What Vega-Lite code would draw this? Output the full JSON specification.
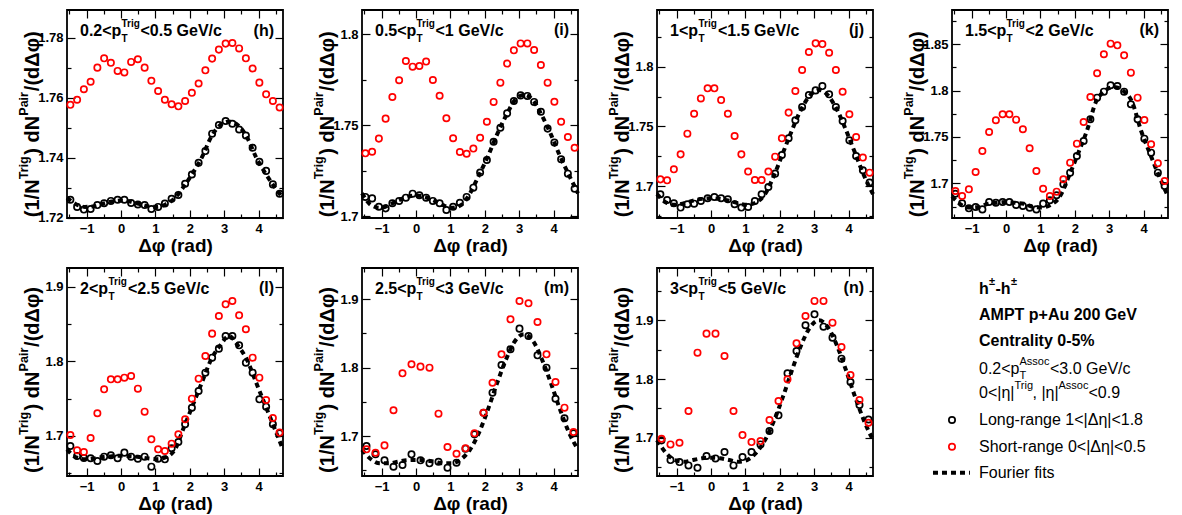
{
  "$schema": "https://vega.github.io/schema/vega-lite/v6.json",
  "background": "white",
  "padding": {"left": 17, "top": 8, "right": 0, "bottom": 0},
  "columns": 4,
  "spacing": {"row": 50, "column": 79},
  "bounds": "flush",
  "datasets": {
    "pts": [
      {"p":"h","x":-1.4726,"L":1.7260,"S":1.7576},{"p":"h","x":-1.2763,"L":1.7236,"S":1.7593},{"p":"h","x":-1.0799,"L":1.7227,"S":1.7628},{"p":"h","x":-0.8836,"L":1.7229,"S":1.7653},
      {"p":"h","x":-0.6872,"L":1.7242,"S":1.7700},{"p":"h","x":-0.4909,"L":1.7248,"S":1.7731},{"p":"h","x":-0.2945,"L":1.7256,"S":1.7716},{"p":"h","x":-0.0982,"L":1.7260,"S":1.7689},
      {"p":"h","x":0.0982,"L":1.7260,"S":1.7684},{"p":"h","x":0.2945,"L":1.7249,"S":1.7719},{"p":"h","x":0.4909,"L":1.7244,"S":1.7728},{"p":"h","x":0.6872,"L":1.7242,"S":1.7700},
      {"p":"h","x":0.8836,"L":1.7229,"S":1.7656},{"p":"h","x":1.0799,"L":1.7236,"S":1.7622},{"p":"h","x":1.2763,"L":1.7247,"S":1.7593},{"p":"h","x":1.4726,"L":1.7263,"S":1.7578},
      {"p":"h","x":1.669,"L":1.7276,"S":1.7571},{"p":"h","x":1.8653,"L":1.7313,"S":1.7589},{"p":"h","x":2.0617,"L":1.7344,"S":1.7616},{"p":"h","x":2.258,"L":1.7383,"S":1.7647},
      {"p":"h","x":2.4544,"L":1.7422,"S":1.7691},{"p":"h","x":2.6507,"L":1.7480,"S":1.7730},{"p":"h","x":2.8471,"L":1.7509,"S":1.7760},{"p":"h","x":3.0434,"L":1.7522,"S":1.7780},
      {"p":"h","x":3.2398,"L":1.7513,"S":1.7782},{"p":"h","x":3.4361,"L":1.7494,"S":1.7764},{"p":"h","x":3.6325,"L":1.7474,"S":1.7731},{"p":"h","x":3.8288,"L":1.7433,"S":1.7697},
      {"p":"h","x":4.0252,"L":1.7386,"S":1.7650},{"p":"h","x":4.2215,"L":1.7356,"S":1.7611},{"p":"h","x":4.4179,"L":1.7311,"S":1.7589},{"p":"h","x":4.6142,"L":1.7280,"S":1.7567},

      {"p":"i","x":-1.4726,"L":1.7105,"S":1.7345},{"p":"i","x":-1.2763,"L":1.7097,"S":1.7354},{"p":"i","x":-1.0799,"L":1.7051,"S":1.7426},{"p":"i","x":-0.8836,"L":1.7042,"S":1.7536},
      {"p":"i","x":-0.6872,"L":1.7070,"S":1.7655},{"p":"i","x":-0.4909,"L":1.7083,"S":1.7747},{"p":"i","x":-0.2945,"L":1.7101,"S":1.7853},{"p":"i","x":-0.0982,"L":1.7123,"S":1.7822},
      {"p":"i","x":0.0982,"L":1.7114,"S":1.7826},{"p":"i","x":0.2945,"L":1.7101,"S":1.7850},{"p":"i","x":0.4909,"L":1.7083,"S":1.7749},{"p":"i","x":0.6872,"L":1.7070,"S":1.7662},
      {"p":"i","x":0.8836,"L":1.7033,"S":1.7538},{"p":"i","x":1.0799,"L":1.7051,"S":1.7428},{"p":"i","x":1.2763,"L":1.7073,"S":1.7352},{"p":"i","x":1.4726,"L":1.7105,"S":1.7343},
      {"p":"i","x":1.669,"L":1.7156,"S":1.7371},{"p":"i","x":1.8653,"L":1.7239,"S":1.7431},{"p":"i","x":2.0617,"L":1.7308,"S":1.7519},{"p":"i","x":2.258,"L":1.7409,"S":1.7628},
      {"p":"i","x":2.4544,"L":1.7486,"S":1.7734},{"p":"i","x":2.6507,"L":1.7565,"S":1.7839},{"p":"i","x":2.8471,"L":1.7633,"S":1.7912},{"p":"i","x":3.0434,"L":1.7664,"S":1.7950},
      {"p":"i","x":3.2398,"L":1.7661,"S":1.7950},{"p":"i","x":3.4361,"L":1.7628,"S":1.7914},{"p":"i","x":3.6325,"L":1.7574,"S":1.7831},{"p":"i","x":3.8288,"L":1.7481,"S":1.7734},
      {"p":"i","x":4.0252,"L":1.7404,"S":1.7629},{"p":"i","x":4.2215,"L":1.7312,"S":1.7519},{"p":"i","x":4.4179,"L":1.7233,"S":1.7435},{"p":"i","x":4.6142,"L":1.7150,"S":1.7376},

      {"p":"j","x":-1.4726,"L":1.6933,"S":1.7058},{"p":"j","x":-1.2763,"L":1.6886,"S":1.7050},{"p":"j","x":-1.0799,"L":1.6858,"S":1.7142},{"p":"j","x":-0.8836,"L":1.6822,"S":1.7267},
      {"p":"j","x":-0.6872,"L":1.6850,"S":1.7440},{"p":"j","x":-0.4909,"L":1.6855,"S":1.7607},{"p":"j","x":-0.2945,"L":1.6877,"S":1.7735},{"p":"j","x":-0.0982,"L":1.6900,"S":1.7819},
      {"p":"j","x":0.0982,"L":1.6911,"S":1.7819},{"p":"j","x":0.2945,"L":1.6900,"S":1.7721},{"p":"j","x":0.4909,"L":1.6891,"S":1.7607},{"p":"j","x":0.6872,"L":1.6850,"S":1.7421},
      {"p":"j","x":0.8836,"L":1.6822,"S":1.7267},{"p":"j","x":1.0799,"L":1.6827,"S":1.7123},{"p":"j","x":1.2763,"L":1.6877,"S":1.7053},{"p":"j","x":1.4726,"L":1.6933,"S":1.7053},
      {"p":"j","x":1.669,"L":1.6994,"S":1.7123},{"p":"j","x":1.8653,"L":1.7106,"S":1.7248},{"p":"j","x":2.0617,"L":1.7262,"S":1.7401},{"p":"j","x":2.258,"L":1.7401,"S":1.7616},
      {"p":"j","x":2.4544,"L":1.7552,"S":1.7797},{"p":"j","x":2.6507,"L":1.7663,"S":1.7972},{"p":"j","x":2.8471,"L":1.7763,"S":1.8123},{"p":"j","x":3.0434,"L":1.7802,"S":1.8195},
      {"p":"j","x":3.2398,"L":1.7838,"S":1.8189},{"p":"j","x":3.4361,"L":1.7769,"S":1.8117},{"p":"j","x":3.6325,"L":1.7663,"S":1.7972},{"p":"j","x":3.8288,"L":1.7546,"S":1.7791},
      {"p":"j","x":4.0252,"L":1.7384,"S":1.7602},{"p":"j","x":4.2215,"L":1.7253,"S":1.7412},{"p":"j","x":4.4179,"L":1.7134,"S":1.7240},{"p":"j","x":4.6142,"L":1.7031,"S":1.7114},

      {"p":"k","x":-1.4726,"L":1.6888,"S":1.6917},{"p":"k","x":-1.2763,"L":1.6784,"S":1.6863},{"p":"k","x":-1.0799,"L":1.6730,"S":1.6935},{"p":"k","x":-0.8836,"L":1.6745,"S":1.7122},
      {"p":"k","x":-0.6872,"L":1.6719,"S":1.7349},{"p":"k","x":-0.4909,"L":1.6799,"S":1.7554},{"p":"k","x":-0.2945,"L":1.6791,"S":1.7680},{"p":"k","x":-0.0982,"L":1.6799,"S":1.7745},
      {"p":"k","x":0.0982,"L":1.6799,"S":1.7745},{"p":"k","x":0.2945,"L":1.6766,"S":1.7687},{"p":"k","x":0.4909,"L":1.6755,"S":1.7583},{"p":"k","x":0.6872,"L":1.6737,"S":1.7378},
      {"p":"k","x":0.8836,"L":1.6719,"S":1.7133},{"p":"k","x":1.0799,"L":1.6781,"S":1.6942},{"p":"k","x":1.2763,"L":1.6817,"S":1.6863},{"p":"k","x":1.4726,"L":1.6871,"S":1.6910},
      {"p":"k","x":1.669,"L":1.6989,"S":1.7043},{"p":"k","x":1.8653,"L":1.7115,"S":1.7223},{"p":"k","x":2.0617,"L":1.7295,"S":1.7428},{"p":"k","x":2.258,"L":1.7457,"S":1.7662},
      {"p":"k","x":2.4544,"L":1.7691,"S":1.7932},{"p":"k","x":2.6507,"L":1.7924,"S":1.8187},{"p":"k","x":2.8471,"L":1.7989,"S":1.8392},{"p":"k","x":3.0434,"L":1.8058,"S":1.8507},
      {"p":"k","x":3.2398,"L":1.8050,"S":1.8489},{"p":"k","x":3.4361,"L":1.7989,"S":1.8381},{"p":"k","x":3.6325,"L":1.7853,"S":1.8194},{"p":"k","x":3.8288,"L":1.7691,"S":1.7924},
      {"p":"k","x":4.0252,"L":1.7482,"S":1.7683},{"p":"k","x":4.2215,"L":1.7331,"S":1.7421},{"p":"k","x":4.4179,"L":1.7115,"S":1.7216},{"p":"k","x":4.6142,"L":1.6971,"S":1.7025},

      {"p":"l","x":-1.4726,"L":1.6866,"S":1.7013},{"p":"l","x":-1.2763,"L":1.6732,"S":1.6808},{"p":"l","x":-1.0799,"L":1.6705,"S":1.6786},{"p":"l","x":-0.8836,"L":1.6701,"S":1.6973},
      {"p":"l","x":-0.6872,"L":1.6665,"S":1.7304},{"p":"l","x":-0.4909,"L":1.6723,"S":1.7625},{"p":"l","x":-0.2945,"L":1.6741,"S":1.7759},{"p":"l","x":-0.0982,"L":1.6701,"S":1.7759},
      {"p":"l","x":0.0982,"L":1.6777,"S":1.7781},{"p":"l","x":0.2945,"L":1.6723,"S":1.7804},{"p":"l","x":0.4909,"L":1.6696,"S":1.7634},{"p":"l","x":0.6872,"L":1.6723,"S":1.7326},
      {"p":"l","x":0.8836,"L":1.6589,"S":1.6955},{"p":"l","x":1.0799,"L":1.6696,"S":1.6821},{"p":"l","x":1.2763,"L":1.6687,"S":1.6799},{"p":"l","x":1.4726,"L":1.6835,"S":1.6897},
      {"p":"l","x":1.669,"L":1.6920,"S":1.7022},{"p":"l","x":1.8653,"L":1.7156,"S":1.7223},{"p":"l","x":2.0617,"L":1.7379,"S":1.7500},{"p":"l","x":2.258,"L":1.7603,"S":1.7768},
      {"p":"l","x":2.4544,"L":1.7848,"S":1.8071},{"p":"l","x":2.6507,"L":1.8049,"S":1.8371},{"p":"l","x":2.8471,"L":1.8170,"S":1.8607},{"p":"l","x":3.0434,"L":1.8339,"S":1.8763},
      {"p":"l","x":3.2398,"L":1.8339,"S":1.8808},{"p":"l","x":3.4361,"L":1.8214,"S":1.8616},{"p":"l","x":3.6325,"L":1.7982,"S":1.8429},{"p":"l","x":3.8288,"L":1.7848,"S":1.8049},
      {"p":"l","x":4.0252,"L":1.7491,"S":1.7781},{"p":"l","x":4.2215,"L":1.7393,"S":1.7482},{"p":"l","x":4.4179,"L":1.7156,"S":1.7241},{"p":"l","x":4.6142,"L":1.7036,"S":1.7045},

      {"p":"m","x":-1.4399,"L":1.6854,"S":1.6805},{"p":"m","x":-1.1781,"L":1.6732,"S":1.6756},{"p":"m","x":-0.9163,"L":1.6644,"S":1.6863},{"p":"m","x":-0.6545,"L":1.6551,"S":1.7376},
      {"p":"m","x":-0.3927,"L":1.6576,"S":1.7917},{"p":"m","x":-0.1309,"L":1.6732,"S":1.8049},{"p":"m","x":0.1309,"L":1.6644,"S":1.8015},{"p":"m","x":0.3927,"L":1.6600,"S":1.8000},
      {"p":"m","x":0.6545,"L":1.6624,"S":1.7327},{"p":"m","x":0.9163,"L":1.6537,"S":1.6839},{"p":"m","x":1.1781,"L":1.6610,"S":1.6741},{"p":"m","x":1.4399,"L":1.6815,"S":1.6820},
      {"p":"m","x":1.7017,"L":1.7024,"S":1.7039},{"p":"m","x":1.9635,"L":1.7341,"S":1.7341},{"p":"m","x":2.2253,"L":1.7634,"S":1.7780},{"p":"m","x":2.4871,"L":1.8039,"S":1.8195},
      {"p":"m","x":2.7489,"L":1.8268,"S":1.8707},{"p":"m","x":3.0107,"L":1.8571,"S":1.8976},{"p":"m","x":3.2725,"L":1.8463,"S":1.8941},{"p":"m","x":3.5343,"L":1.8180,"S":1.8668},
      {"p":"m","x":3.7961,"L":1.8000,"S":1.8195},{"p":"m","x":4.0579,"L":1.7546,"S":1.7790},{"p":"m","x":4.3197,"L":1.7259,"S":1.7415},{"p":"m","x":4.5815,"L":1.7039,"S":1.7059},

      {"p":"n","x":-1.4399,"L":1.6955,"S":1.6983},{"p":"n","x":-1.1781,"L":1.6619,"S":1.6886},{"p":"n","x":-0.9163,"L":1.6585,"S":1.6915},{"p":"n","x":-0.6545,"L":1.6528,"S":1.7455},
      {"p":"n","x":-0.3927,"L":1.6489,"S":1.8449},{"p":"n","x":-0.1309,"L":1.6688,"S":1.8773},{"p":"n","x":0.1309,"L":1.6648,"S":1.8773},{"p":"n","x":0.3927,"L":1.6756,"S":1.8392},
      {"p":"n","x":0.6545,"L":1.6528,"S":1.7455},{"p":"n","x":0.9163,"L":1.6670,"S":1.7045},{"p":"n","x":1.1781,"L":1.6756,"S":1.6926},{"p":"n","x":1.4399,"L":1.6886,"S":1.6943},
      {"p":"n","x":1.7017,"L":1.7114,"S":1.7301},{"p":"n","x":1.9635,"L":1.7381,"S":1.7625},{"p":"n","x":2.2253,"L":1.8097,"S":1.7994},{"p":"n","x":2.4871,"L":1.8477,"S":1.8608},
      {"p":"n","x":2.7489,"L":1.8915,"S":1.9074},{"p":"n","x":3.0107,"L":1.9102,"S":1.9330},{"p":"n","x":3.2725,"L":1.8892,"S":1.9330},{"p":"n","x":3.5343,"L":1.8705,"S":1.8960},
      {"p":"n","x":3.7961,"L":1.8347,"S":1.8545},{"p":"n","x":4.0579,"L":1.7949,"S":1.8068},{"p":"n","x":4.3197,"L":1.7557,"S":1.7642},{"p":"n","x":4.5815,"L":1.7310,"S":1.7256}
    ],
    "fit": [
      {"p":"h","x":-1.5708,"F":1.7266},{"p":"h","x":-1.309,"F":1.7245},{"p":"h","x":-1.0472,"F":1.7236},{"p":"h","x":-0.7854,"F":1.7238},{"p":"h","x":-0.5236,"F":1.7246},
      {"p":"h","x":-0.2618,"F":1.7254},{"p":"h","x":0,"F":1.7257},{"p":"h","x":0.2618,"F":1.7254},{"p":"h","x":0.5236,"F":1.7246},{"p":"h","x":0.7854,"F":1.7238},
      {"p":"h","x":1.0472,"F":1.7236},{"p":"h","x":1.309,"F":1.7245},{"p":"h","x":1.5708,"F":1.7266},{"p":"h","x":1.8326,"F":1.7305},{"p":"h","x":2.0944,"F":1.7350},
      {"p":"h","x":2.3562,"F":1.7402},{"p":"h","x":2.618,"F":1.7468},{"p":"h","x":2.8798,"F":1.7508},{"p":"h","x":3.1416,"F":1.7520},{"p":"h","x":3.4034,"F":1.7508},
      {"p":"h","x":3.6652,"F":1.7468},{"p":"h","x":3.927,"F":1.7402},{"p":"h","x":4.1888,"F":1.7350},{"p":"h","x":4.4506,"F":1.7305},{"p":"h","x":4.7124,"F":1.7266},

      {"p":"i","x":-1.5708,"F":1.7125},{"p":"i","x":-1.309,"F":1.7060},{"p":"i","x":-1.0472,"F":1.7045},{"p":"i","x":-0.7854,"F":1.7060},{"p":"i","x":-0.5236,"F":1.7085},
      {"p":"i","x":-0.2618,"F":1.7105},{"p":"i","x":0,"F":1.7113},{"p":"i","x":0.2618,"F":1.7105},{"p":"i","x":0.5236,"F":1.7085},{"p":"i","x":0.7854,"F":1.7060},
      {"p":"i","x":1.0472,"F":1.7045},{"p":"i","x":1.309,"F":1.7060},{"p":"i","x":1.5708,"F":1.7125},{"p":"i","x":1.8326,"F":1.7225},{"p":"i","x":2.0944,"F":1.7330},
      {"p":"i","x":2.3562,"F":1.7448},{"p":"i","x":2.618,"F":1.7552},{"p":"i","x":2.8798,"F":1.7638},{"p":"i","x":3.1416,"F":1.7667},{"p":"i","x":3.4034,"F":1.7638},
      {"p":"i","x":3.6652,"F":1.7552},{"p":"i","x":3.927,"F":1.7448},{"p":"i","x":4.1888,"F":1.7330},{"p":"i","x":4.4506,"F":1.7225},{"p":"i","x":4.7124,"F":1.7125},

      {"p":"j","x":-1.5708,"F":1.6935},{"p":"j","x":-1.309,"F":1.6865},{"p":"j","x":-1.0472,"F":1.6845},{"p":"j","x":-0.7854,"F":1.6858},{"p":"j","x":-0.5236,"F":1.6880},
      {"p":"j","x":-0.2618,"F":1.6895},{"p":"j","x":0,"F":1.6900},{"p":"j","x":0.2618,"F":1.6895},{"p":"j","x":0.5236,"F":1.6880},{"p":"j","x":0.7854,"F":1.6858},
      {"p":"j","x":1.0472,"F":1.6845},{"p":"j","x":1.309,"F":1.6865},{"p":"j","x":1.5708,"F":1.6935},{"p":"j","x":1.8326,"F":1.7090},{"p":"j","x":2.0944,"F":1.7280},
      {"p":"j","x":2.3562,"F":1.7470},{"p":"j","x":2.618,"F":1.7640},{"p":"j","x":2.8798,"F":1.7760},{"p":"j","x":3.1416,"F":1.7805},{"p":"j","x":3.4034,"F":1.7760},
      {"p":"j","x":3.6652,"F":1.7640},{"p":"j","x":3.927,"F":1.7470},{"p":"j","x":4.1888,"F":1.7280},{"p":"j","x":4.4506,"F":1.7090},{"p":"j","x":4.7124,"F":1.6935},

      {"p":"k","x":-1.5708,"F":1.6860},{"p":"k","x":-1.309,"F":1.6770},{"p":"k","x":-1.0472,"F":1.6740},{"p":"k","x":-0.7854,"F":1.6745},{"p":"k","x":-0.5236,"F":1.6780},
      {"p":"k","x":-0.2618,"F":1.6790},{"p":"k","x":0,"F":1.6798},{"p":"k","x":0.2618,"F":1.6790},{"p":"k","x":0.5236,"F":1.6780},{"p":"k","x":0.7854,"F":1.6745},
      {"p":"k","x":1.0472,"F":1.6740},{"p":"k","x":1.309,"F":1.6770},{"p":"k","x":1.5708,"F":1.6860},{"p":"k","x":1.8326,"F":1.7080},{"p":"k","x":2.0944,"F":1.7320},
      {"p":"k","x":2.3562,"F":1.7570},{"p":"k","x":2.618,"F":1.7880},{"p":"k","x":2.8798,"F":1.8000},{"p":"k","x":3.1416,"F":1.8040},{"p":"k","x":3.4034,"F":1.8000},
      {"p":"k","x":3.6652,"F":1.7880},{"p":"k","x":3.927,"F":1.7570},{"p":"k","x":4.1888,"F":1.7320},{"p":"k","x":4.4506,"F":1.7080},{"p":"k","x":4.7124,"F":1.6860},

      {"p":"l","x":-1.5708,"F":1.6820},{"p":"l","x":-1.309,"F":1.6715},{"p":"l","x":-1.0472,"F":1.6690},{"p":"l","x":-0.7854,"F":1.6700},{"p":"l","x":-0.5236,"F":1.6718},
      {"p":"l","x":-0.2618,"F":1.6730},{"p":"l","x":0,"F":1.6735},{"p":"l","x":0.2618,"F":1.6730},{"p":"l","x":0.5236,"F":1.6718},{"p":"l","x":0.7854,"F":1.6700},
      {"p":"l","x":1.0472,"F":1.6690},{"p":"l","x":1.309,"F":1.6715},{"p":"l","x":1.5708,"F":1.6820},{"p":"l","x":1.8326,"F":1.7120},{"p":"l","x":2.0944,"F":1.7420},
      {"p":"l","x":2.3562,"F":1.7720},{"p":"l","x":2.618,"F":1.8020},{"p":"l","x":2.8798,"F":1.8210},{"p":"l","x":3.1416,"F":1.8340},{"p":"l","x":3.4034,"F":1.8210},
      {"p":"l","x":3.6652,"F":1.8020},{"p":"l","x":3.927,"F":1.7720},{"p":"l","x":4.1888,"F":1.7420},{"p":"l","x":4.4506,"F":1.7120},{"p":"l","x":4.7124,"F":1.6820},

      {"p":"m","x":-1.5708,"F":1.6800},{"p":"m","x":-1.309,"F":1.6660},{"p":"m","x":-1.0472,"F":1.6600},{"p":"m","x":-0.7854,"F":1.6600},{"p":"m","x":-0.5236,"F":1.6625},
      {"p":"m","x":-0.2618,"F":1.6645},{"p":"m","x":0,"F":1.6650},{"p":"m","x":0.2618,"F":1.6645},{"p":"m","x":0.5236,"F":1.6625},{"p":"m","x":0.7854,"F":1.6600},
      {"p":"m","x":1.0472,"F":1.6600},{"p":"m","x":1.309,"F":1.6660},{"p":"m","x":1.5708,"F":1.6800},{"p":"m","x":1.8326,"F":1.7050},{"p":"m","x":2.0944,"F":1.7390},
      {"p":"m","x":2.3562,"F":1.7770},{"p":"m","x":2.618,"F":1.8120},{"p":"m","x":2.8798,"F":1.8390},{"p":"m","x":3.1416,"F":1.8490},{"p":"m","x":3.4034,"F":1.8390},
      {"p":"m","x":3.6652,"F":1.8120},{"p":"m","x":3.927,"F":1.7770},{"p":"m","x":4.1888,"F":1.7390},{"p":"m","x":4.4506,"F":1.7050},{"p":"m","x":4.7124,"F":1.6800},

      {"p":"n","x":-1.5708,"F":1.6960},{"p":"n","x":-1.309,"F":1.6740},{"p":"n","x":-1.0472,"F":1.6620},{"p":"n","x":-0.7854,"F":1.6590},{"p":"n","x":-0.5236,"F":1.6620},
      {"p":"n","x":-0.2618,"F":1.6650},{"p":"n","x":0,"F":1.6660},{"p":"n","x":0.2618,"F":1.6650},{"p":"n","x":0.5236,"F":1.6620},{"p":"n","x":0.7854,"F":1.6590},
      {"p":"n","x":1.0472,"F":1.6620},{"p":"n","x":1.309,"F":1.6740},{"p":"n","x":1.5708,"F":1.6960},{"p":"n","x":1.8326,"F":1.7290},{"p":"n","x":2.0944,"F":1.7700},
      {"p":"n","x":2.3562,"F":1.8150},{"p":"n","x":2.618,"F":1.8570},{"p":"n","x":2.8798,"F":1.8880},{"p":"n","x":3.1416,"F":1.9000},{"p":"n","x":3.4034,"F":1.8880},
      {"p":"n","x":3.6652,"F":1.8570},{"p":"n","x":3.927,"F":1.8150},{"p":"n","x":4.1888,"F":1.7700},{"p":"n","x":4.4506,"F":1.7290},{"p":"n","x":4.7124,"F":1.6960}
    ]
  },
  "concat": [
    {
      "width": 216, "height": 208,
      "resolve": {"scale": {"x": "independent", "y": "independent"}},
      "layer": [
        {"data": {"name": "pts"}, "transform": [{"filter": "datum.p === 'h'"}],
         "mark": {"type": "point", "shape": "circle", "filled": false, "stroke": "black", "strokeWidth": 1.7, "size": 40, "opacity": 1},
         "encoding": {
           "x": {"field": "x", "type": "quantitative", "scale": {"domain": [-1.5708, 4.7124], "nice": false, "zero": false},
                 "axis": {"orient": "bottom", "values": [-1, 0, 1, 2, 3, 4], "tickSize": -8, "title": "Δφ (rad)", "titlePadding": 1}},
           "y": {"field": "L", "type": "quantitative", "scale": {"domain": [1.7199, 1.7892], "nice": false, "zero": false},
                 "axis": {"orient": "left", "values": [1.72, 1.74, 1.76, 1.78], "format": "~g", "tickSize": -8, "title": null}}}},
        {"data": {"name": "fit"}, "transform": [{"filter": "datum.p === 'h'"}],
         "mark": {"type": "line", "stroke": "black", "strokeWidth": 4, "strokeDash": [5, 4], "interpolate": "monotone"},
         "encoding": {
           "x": {"field": "x", "type": "quantitative", "scale": {"domain": [-1.5708, 4.7124], "nice": false, "zero": false},
                 "axis": {"orient": "top", "values": [-1, 0, 1, 2, 3, 4], "tickSize": -8, "labels": false, "title": null}},
           "y": {"field": "F", "type": "quantitative", "scale": {"domain": [1.7199, 1.7892], "nice": false, "zero": false},
                 "axis": {"orient": "right", "values": [1.72, 1.74, 1.76, 1.78], "tickSize": -8, "labels": false, "title": null}}}},
        {"data": {"name": "pts"}, "transform": [{"filter": "datum.p === 'h'"}],
         "mark": {"type": "point", "shape": "circle", "filled": false, "stroke": "#ff0000", "strokeWidth": 1.7, "size": 40, "opacity": 1},
         "encoding": {
           "x": {"field": "x", "type": "quantitative", "scale": {"domain": [-1.5708, 4.7124], "nice": false, "zero": false},
                 "axis": {"orient": "bottom", "values": [-1.5, -0.5, 0.5, 1.5, 2.5, 3.5, 4.5], "tickSize": -4, "labels": false, "title": null}},
           "y": {"field": "S", "type": "quantitative", "scale": {"domain": [1.7199, 1.7892], "nice": false, "zero": false},
                 "axis": {"orient": "left", "values": [1.73, 1.75, 1.77], "tickSize": -4, "labels": false, "title": null}}}},
        {"data": {"values": [{"t": "(h)"}]},
         "mark": {"type": "text", "align": "right", "baseline": "alphabetic", "fontSize": 16, "fontWeight": "bold"},
         "encoding": {"text": {"field": "t"},
           "x": {"datum": 4.4506, "scale": {"domain": [-1.5708, 4.7124], "nice": false, "zero": false},
                 "axis": {"orient": "top", "values": [-1.5, -0.5, 0.5, 1.5, 2.5, 3.5, 4.5], "tickSize": -4, "labels": false, "title": null}},
           "y": {"datum": 1.7807, "scale": {"domain": [1.7199, 1.7892], "nice": false, "zero": false},
                 "axis": {"orient": "right", "values": [1.73, 1.75, 1.77], "tickSize": -4, "labels": false, "title": null}}}},
        {"data": {"values": [{"t": "0.2<p"}]}, "mark": {"type": "text", "align": "left", "baseline": "alphabetic", "fontSize": 16, "fontWeight": "bold"},
         "encoding": {"text": {"field": "t"}, "x": {"datum": 0.0602, "scale": {"domain": [0, 1]}, "axis": null}, "y": {"datum": 0.877, "scale": {"domain": [0, 1]}, "axis": null}}},
        {"data": {"values": [{"t": "Trig"}]}, "mark": {"type": "text", "align": "left", "baseline": "alphabetic", "fontSize": 10, "fontWeight": "bold", "dx": 41.5, "dy": -9},
         "encoding": {"text": {"field": "t"}, "x": {"datum": 0.0602, "scale": {"domain": [0, 1]}, "axis": null}, "y": {"datum": 0.877, "scale": {"domain": [0, 1]}, "axis": null}}},
        {"data": {"values": [{"t": "T"}]}, "mark": {"type": "text", "align": "left", "baseline": "alphabetic", "fontSize": 10, "fontWeight": "bold", "dx": 41.5, "dy": 6},
         "encoding": {"text": {"field": "t"}, "x": {"datum": 0.0602, "scale": {"domain": [0, 1]}, "axis": null}, "y": {"datum": 0.877, "scale": {"domain": [0, 1]}, "axis": null}}},
        {"data": {"values": [{"t": "<0.5 GeV/c"}]}, "mark": {"type": "text", "align": "left", "baseline": "alphabetic", "fontSize": 16, "fontWeight": "bold", "dx": 60.5},
         "encoding": {"text": {"field": "t"}, "x": {"datum": 0.0602, "scale": {"domain": [0, 1]}, "axis": null}, "y": {"datum": 0.877, "scale": {"domain": [0, 1]}, "axis": null}}},
        {"data": {"values": [{"t": "(1/N"}]}, "mark": {"type": "text", "angle": 270, "align": "left", "baseline": "alphabetic", "fontSize": 20, "fontWeight": "bold"},
         "encoding": {"text": {"field": "t"}, "x": {"datum": -0.1296, "scale": {"domain": [0, 1]}, "axis": null}, "y": {"datum": 0.004, "scale": {"domain": [0, 1]}, "axis": null}}},
        {"data": {"values": [{"t": "Trig"}]}, "mark": {"type": "text", "angle": 270, "align": "left", "baseline": "alphabetic", "fontSize": 12.5, "fontWeight": "bold", "dx": 38, "dy": -11},
         "encoding": {"text": {"field": "t"}, "x": {"datum": -0.1296, "scale": {"domain": [0, 1]}, "axis": null}, "y": {"datum": 0.004, "scale": {"domain": [0, 1]}, "axis": null}}},
        {"data": {"values": [{"t": ") dN"}]}, "mark": {"type": "text", "angle": 270, "align": "left", "baseline": "alphabetic", "fontSize": 20, "fontWeight": "bold", "dx": 62.5},
         "encoding": {"text": {"field": "t"}, "x": {"datum": -0.1296, "scale": {"domain": [0, 1]}, "axis": null}, "y": {"datum": 0.004, "scale": {"domain": [0, 1]}, "axis": null}}},
        {"data": {"values": [{"t": "Pair"}]}, "mark": {"type": "text", "angle": 270, "align": "left", "baseline": "alphabetic", "fontSize": 12.5, "fontWeight": "bold", "dx": 101.5, "dy": -11},
         "encoding": {"text": {"field": "t"}, "x": {"datum": -0.1296, "scale": {"domain": [0, 1]}, "axis": null}, "y": {"datum": 0.004, "scale": {"domain": [0, 1]}, "axis": null}}},
        {"data": {"values": [{"t": "/(dΔφ)"}]}, "mark": {"type": "text", "angle": 270, "align": "left", "baseline": "alphabetic", "fontSize": 20, "fontWeight": "bold", "dx": 126},
         "encoding": {"text": {"field": "t"}, "x": {"datum": -0.1296, "scale": {"domain": [0, 1]}, "axis": null}, "y": {"datum": 0.004, "scale": {"domain": [0, 1]}, "axis": null}}}
      ]
    },
    {
      "width": 216, "height": 208,
      "resolve": {"scale": {"x": "independent", "y": "independent"}},
      "layer": [
        {"data": {"name": "pts"}, "transform": [{"filter": "datum.p === 'i'"}],
         "mark": {"type": "point", "shape": "circle", "filled": false, "stroke": "black", "strokeWidth": 1.7, "size": 40, "opacity": 1},
         "encoding": {
           "x": {"field": "x", "type": "quantitative", "scale": {"domain": [-1.5708, 4.7124], "nice": false, "zero": false},
                 "axis": {"orient": "bottom", "values": [-1, 0, 1, 2, 3, 4], "tickSize": -8, "title": "Δφ (rad)", "titlePadding": 1}},
           "y": {"field": "L", "type": "quantitative", "scale": {"domain": [1.6989, 1.8134], "nice": false, "zero": false},
                 "axis": {"orient": "left", "values": [1.7, 1.75, 1.8], "format": "~g", "tickSize": -8, "title": null}}}},
        {"data": {"name": "fit"}, "transform": [{"filter": "datum.p === 'i'"}],
         "mark": {"type": "line", "stroke": "black", "strokeWidth": 4, "strokeDash": [5, 4], "interpolate": "monotone"},
         "encoding": {
           "x": {"field": "x", "type": "quantitative", "scale": {"domain": [-1.5708, 4.7124], "nice": false, "zero": false},
                 "axis": {"orient": "top", "values": [-1, 0, 1, 2, 3, 4], "tickSize": -8, "labels": false, "title": null}},
           "y": {"field": "F", "type": "quantitative", "scale": {"domain": [1.6989, 1.8134], "nice": false, "zero": false},
                 "axis": {"orient": "right", "values": [1.7, 1.75, 1.8], "tickSize": -8, "labels": false, "title": null}}}},
        {"data": {"name": "pts"}, "transform": [{"filter": "datum.p === 'i'"}],
         "mark": {"type": "point", "shape": "circle", "filled": false, "stroke": "#ff0000", "strokeWidth": 1.7, "size": 40, "opacity": 1},
         "encoding": {
           "x": {"field": "x", "type": "quantitative", "scale": {"domain": [-1.5708, 4.7124], "nice": false, "zero": false},
                 "axis": {"orient": "bottom", "values": [-1.5, -0.5, 0.5, 1.5, 2.5, 3.5, 4.5], "tickSize": -4, "labels": false, "title": null}},
           "y": {"field": "S", "type": "quantitative", "scale": {"domain": [1.6989, 1.8134], "nice": false, "zero": false},
                 "axis": {"orient": "left", "values": [1.725, 1.775], "tickSize": -4, "labels": false, "title": null}}}},
        {"data": {"values": [{"t": "(i)"}]},
         "mark": {"type": "text", "align": "right", "baseline": "alphabetic", "fontSize": 16, "fontWeight": "bold"},
         "encoding": {"text": {"field": "t"},
           "x": {"datum": 4.4506, "scale": {"domain": [-1.5708, 4.7124], "nice": false, "zero": false},
                 "axis": {"orient": "top", "values": [-1.5, -0.5, 0.5, 1.5, 2.5, 3.5, 4.5], "tickSize": -4, "labels": false, "title": null}},
           "y": {"datum": 1.7994, "scale": {"domain": [1.6989, 1.8134], "nice": false, "zero": false},
                 "axis": {"orient": "right", "values": [1.725, 1.775], "tickSize": -4, "labels": false, "title": null}}}},
        {"data": {"values": [{"t": "0.5<p"}]}, "mark": {"type": "text", "align": "left", "baseline": "alphabetic", "fontSize": 16, "fontWeight": "bold"},
         "encoding": {"text": {"field": "t"}, "x": {"datum": 0.0602, "scale": {"domain": [0, 1]}, "axis": null}, "y": {"datum": 0.877, "scale": {"domain": [0, 1]}, "axis": null}}},
        {"data": {"values": [{"t": "Trig"}]}, "mark": {"type": "text", "align": "left", "baseline": "alphabetic", "fontSize": 10, "fontWeight": "bold", "dx": 41.5, "dy": -9},
         "encoding": {"text": {"field": "t"}, "x": {"datum": 0.0602, "scale": {"domain": [0, 1]}, "axis": null}, "y": {"datum": 0.877, "scale": {"domain": [0, 1]}, "axis": null}}},
        {"data": {"values": [{"t": "T"}]}, "mark": {"type": "text", "align": "left", "baseline": "alphabetic", "fontSize": 10, "fontWeight": "bold", "dx": 41.5, "dy": 6},
         "encoding": {"text": {"field": "t"}, "x": {"datum": 0.0602, "scale": {"domain": [0, 1]}, "axis": null}, "y": {"datum": 0.877, "scale": {"domain": [0, 1]}, "axis": null}}},
        {"data": {"values": [{"t": "<1 GeV/c"}]}, "mark": {"type": "text", "align": "left", "baseline": "alphabetic", "fontSize": 16, "fontWeight": "bold", "dx": 60.5},
         "encoding": {"text": {"field": "t"}, "x": {"datum": 0.0602, "scale": {"domain": [0, 1]}, "axis": null}, "y": {"datum": 0.877, "scale": {"domain": [0, 1]}, "axis": null}}},
        {"data": {"values": [{"t": "(1/N"}]}, "mark": {"type": "text", "angle": 270, "align": "left", "baseline": "alphabetic", "fontSize": 20, "fontWeight": "bold"},
         "encoding": {"text": {"field": "t"}, "x": {"datum": -0.1296, "scale": {"domain": [0, 1]}, "axis": null}, "y": {"datum": 0.004, "scale": {"domain": [0, 1]}, "axis": null}}},
        {"data": {"values": [{"t": "Trig"}]}, "mark": {"type": "text", "angle": 270, "align": "left", "baseline": "alphabetic", "fontSize": 12.5, "fontWeight": "bold", "dx": 38, "dy": -11},
         "encoding": {"text": {"field": "t"}, "x": {"datum": -0.1296, "scale": {"domain": [0, 1]}, "axis": null}, "y": {"datum": 0.004, "scale": {"domain": [0, 1]}, "axis": null}}},
        {"data": {"values": [{"t": ") dN"}]}, "mark": {"type": "text", "angle": 270, "align": "left", "baseline": "alphabetic", "fontSize": 20, "fontWeight": "bold", "dx": 62.5},
         "encoding": {"text": {"field": "t"}, "x": {"datum": -0.1296, "scale": {"domain": [0, 1]}, "axis": null}, "y": {"datum": 0.004, "scale": {"domain": [0, 1]}, "axis": null}}},
        {"data": {"values": [{"t": "Pair"}]}, "mark": {"type": "text", "angle": 270, "align": "left", "baseline": "alphabetic", "fontSize": 12.5, "fontWeight": "bold", "dx": 101.5, "dy": -11},
         "encoding": {"text": {"field": "t"}, "x": {"datum": -0.1296, "scale": {"domain": [0, 1]}, "axis": null}, "y": {"datum": 0.004, "scale": {"domain": [0, 1]}, "axis": null}}},
        {"data": {"values": [{"t": "/(dΔφ)"}]}, "mark": {"type": "text", "angle": 270, "align": "left", "baseline": "alphabetic", "fontSize": 20, "fontWeight": "bold", "dx": 126},
         "encoding": {"text": {"field": "t"}, "x": {"datum": -0.1296, "scale": {"domain": [0, 1]}, "axis": null}, "y": {"datum": 0.004, "scale": {"domain": [0, 1]}, "axis": null}}}
      ]
    },
    {
      "width": 216, "height": 208,
      "resolve": {"scale": {"x": "independent", "y": "independent"}},
      "layer": [
        {"data": {"name": "pts"}, "transform": [{"filter": "datum.p === 'j'"}],
         "mark": {"type": "point", "shape": "circle", "filled": false, "stroke": "black", "strokeWidth": 1.7, "size": 40, "opacity": 1},
         "encoding": {
           "x": {"field": "x", "type": "quantitative", "scale": {"domain": [-1.5708, 4.7124], "nice": false, "zero": false},
                 "axis": {"orient": "bottom", "values": [-1, 0, 1, 2, 3, 4], "tickSize": -8, "title": "Δφ (rad)", "titlePadding": 1}},
           "y": {"field": "L", "type": "quantitative", "scale": {"domain": [1.6735, 1.8474], "nice": false, "zero": false},
                 "axis": {"orient": "left", "values": [1.7, 1.75, 1.8], "format": "~g", "tickSize": -8, "title": null}}}},
        {"data": {"name": "fit"}, "transform": [{"filter": "datum.p === 'j'"}],
         "mark": {"type": "line", "stroke": "black", "strokeWidth": 4, "strokeDash": [5, 4], "interpolate": "monotone"},
         "encoding": {
           "x": {"field": "x", "type": "quantitative", "scale": {"domain": [-1.5708, 4.7124], "nice": false, "zero": false},
                 "axis": {"orient": "top", "values": [-1, 0, 1, 2, 3, 4], "tickSize": -8, "labels": false, "title": null}},
           "y": {"field": "F", "type": "quantitative", "scale": {"domain": [1.6735, 1.8474], "nice": false, "zero": false},
                 "axis": {"orient": "right", "values": [1.7, 1.75, 1.8], "tickSize": -8, "labels": false, "title": null}}}},
        {"data": {"name": "pts"}, "transform": [{"filter": "datum.p === 'j'"}],
         "mark": {"type": "point", "shape": "circle", "filled": false, "stroke": "#ff0000", "strokeWidth": 1.7, "size": 40, "opacity": 1},
         "encoding": {
           "x": {"field": "x", "type": "quantitative", "scale": {"domain": [-1.5708, 4.7124], "nice": false, "zero": false},
                 "axis": {"orient": "bottom", "values": [-1.5, -0.5, 0.5, 1.5, 2.5, 3.5, 4.5], "tickSize": -4, "labels": false, "title": null}},
           "y": {"field": "S", "type": "quantitative", "scale": {"domain": [1.6735, 1.8474], "nice": false, "zero": false},
                 "axis": {"orient": "left", "values": [1.675, 1.725, 1.775, 1.825], "tickSize": -4, "labels": false, "title": null}}}},
        {"data": {"values": [{"t": "(j)"}]},
         "mark": {"type": "text", "align": "right", "baseline": "alphabetic", "fontSize": 16, "fontWeight": "bold"},
         "encoding": {"text": {"field": "t"},
           "x": {"datum": 4.4506, "scale": {"domain": [-1.5708, 4.7124], "nice": false, "zero": false},
                 "axis": {"orient": "top", "values": [-1.5, -0.5, 0.5, 1.5, 2.5, 3.5, 4.5], "tickSize": -4, "labels": false, "title": null}},
           "y": {"datum": 1.8261, "scale": {"domain": [1.6735, 1.8474], "nice": false, "zero": false},
                 "axis": {"orient": "right", "values": [1.675, 1.725, 1.775, 1.825], "tickSize": -4, "labels": false, "title": null}}}},
        {"data": {"values": [{"t": "1<p"}]}, "mark": {"type": "text", "align": "left", "baseline": "alphabetic", "fontSize": 16, "fontWeight": "bold"},
         "encoding": {"text": {"field": "t"}, "x": {"datum": 0.0602, "scale": {"domain": [0, 1]}, "axis": null}, "y": {"datum": 0.877, "scale": {"domain": [0, 1]}, "axis": null}}},
        {"data": {"values": [{"t": "Trig"}]}, "mark": {"type": "text", "align": "left", "baseline": "alphabetic", "fontSize": 10, "fontWeight": "bold", "dx": 28.5, "dy": -9},
         "encoding": {"text": {"field": "t"}, "x": {"datum": 0.0602, "scale": {"domain": [0, 1]}, "axis": null}, "y": {"datum": 0.877, "scale": {"domain": [0, 1]}, "axis": null}}},
        {"data": {"values": [{"t": "T"}]}, "mark": {"type": "text", "align": "left", "baseline": "alphabetic", "fontSize": 10, "fontWeight": "bold", "dx": 28.5, "dy": 6},
         "encoding": {"text": {"field": "t"}, "x": {"datum": 0.0602, "scale": {"domain": [0, 1]}, "axis": null}, "y": {"datum": 0.877, "scale": {"domain": [0, 1]}, "axis": null}}},
        {"data": {"values": [{"t": "<1.5 GeV/c"}]}, "mark": {"type": "text", "align": "left", "baseline": "alphabetic", "fontSize": 16, "fontWeight": "bold", "dx": 48},
         "encoding": {"text": {"field": "t"}, "x": {"datum": 0.0602, "scale": {"domain": [0, 1]}, "axis": null}, "y": {"datum": 0.877, "scale": {"domain": [0, 1]}, "axis": null}}},
        {"data": {"values": [{"t": "(1/N"}]}, "mark": {"type": "text", "angle": 270, "align": "left", "baseline": "alphabetic", "fontSize": 20, "fontWeight": "bold"},
         "encoding": {"text": {"field": "t"}, "x": {"datum": -0.1296, "scale": {"domain": [0, 1]}, "axis": null}, "y": {"datum": 0.004, "scale": {"domain": [0, 1]}, "axis": null}}},
        {"data": {"values": [{"t": "Trig"}]}, "mark": {"type": "text", "angle": 270, "align": "left", "baseline": "alphabetic", "fontSize": 12.5, "fontWeight": "bold", "dx": 38, "dy": -11},
         "encoding": {"text": {"field": "t"}, "x": {"datum": -0.1296, "scale": {"domain": [0, 1]}, "axis": null}, "y": {"datum": 0.004, "scale": {"domain": [0, 1]}, "axis": null}}},
        {"data": {"values": [{"t": ") dN"}]}, "mark": {"type": "text", "angle": 270, "align": "left", "baseline": "alphabetic", "fontSize": 20, "fontWeight": "bold", "dx": 62.5},
         "encoding": {"text": {"field": "t"}, "x": {"datum": -0.1296, "scale": {"domain": [0, 1]}, "axis": null}, "y": {"datum": 0.004, "scale": {"domain": [0, 1]}, "axis": null}}},
        {"data": {"values": [{"t": "Pair"}]}, "mark": {"type": "text", "angle": 270, "align": "left", "baseline": "alphabetic", "fontSize": 12.5, "fontWeight": "bold", "dx": 101.5, "dy": -11},
         "encoding": {"text": {"field": "t"}, "x": {"datum": -0.1296, "scale": {"domain": [0, 1]}, "axis": null}, "y": {"datum": 0.004, "scale": {"domain": [0, 1]}, "axis": null}}},
        {"data": {"values": [{"t": "/(dΔφ)"}]}, "mark": {"type": "text", "angle": 270, "align": "left", "baseline": "alphabetic", "fontSize": 20, "fontWeight": "bold", "dx": 126},
         "encoding": {"text": {"field": "t"}, "x": {"datum": -0.1296, "scale": {"domain": [0, 1]}, "axis": null}, "y": {"datum": 0.004, "scale": {"domain": [0, 1]}, "axis": null}}}
      ]
    },
    {
      "width": 216, "height": 208,
      "resolve": {"scale": {"x": "independent", "y": "independent"}},
      "layer": [
        {"data": {"name": "pts"}, "transform": [{"filter": "datum.p === 'k'"}],
         "mark": {"type": "point", "shape": "circle", "filled": false, "stroke": "black", "strokeWidth": 1.7, "size": 40, "opacity": 1},
         "encoding": {
           "x": {"field": "x", "type": "quantitative", "scale": {"domain": [-1.5708, 4.7124], "nice": false, "zero": false},
                 "axis": {"orient": "bottom", "values": [-1, 0, 1, 2, 3, 4], "tickSize": -8, "title": "Δφ (rad)", "titlePadding": 1}},
           "y": {"field": "L", "type": "quantitative", "scale": {"domain": [1.6626, 1.887], "nice": false, "zero": false},
                 "axis": {"orient": "left", "values": [1.7, 1.75, 1.8, 1.85], "format": "~g", "tickSize": -8, "title": null}}}},
        {"data": {"name": "fit"}, "transform": [{"filter": "datum.p === 'k'"}],
         "mark": {"type": "line", "stroke": "black", "strokeWidth": 4, "strokeDash": [5, 4], "interpolate": "monotone"},
         "encoding": {
           "x": {"field": "x", "type": "quantitative", "scale": {"domain": [-1.5708, 4.7124], "nice": false, "zero": false},
                 "axis": {"orient": "top", "values": [-1, 0, 1, 2, 3, 4], "tickSize": -8, "labels": false, "title": null}},
           "y": {"field": "F", "type": "quantitative", "scale": {"domain": [1.6626, 1.887], "nice": false, "zero": false},
                 "axis": {"orient": "right", "values": [1.7, 1.75, 1.8, 1.85], "tickSize": -8, "labels": false, "title": null}}}},
        {"data": {"name": "pts"}, "transform": [{"filter": "datum.p === 'k'"}],
         "mark": {"type": "point", "shape": "circle", "filled": false, "stroke": "#ff0000", "strokeWidth": 1.7, "size": 40, "opacity": 1},
         "encoding": {
           "x": {"field": "x", "type": "quantitative", "scale": {"domain": [-1.5708, 4.7124], "nice": false, "zero": false},
                 "axis": {"orient": "bottom", "values": [-1.5, -0.5, 0.5, 1.5, 2.5, 3.5, 4.5], "tickSize": -4, "labels": false, "title": null}},
           "y": {"field": "S", "type": "quantitative", "scale": {"domain": [1.6626, 1.887], "nice": false, "zero": false},
                 "axis": {"orient": "left", "values": [1.675, 1.725, 1.775, 1.825, 1.875], "tickSize": -4, "labels": false, "title": null}}}},
        {"data": {"values": [{"t": "(k)"}]},
         "mark": {"type": "text", "align": "right", "baseline": "alphabetic", "fontSize": 16, "fontWeight": "bold"},
         "encoding": {"text": {"field": "t"},
           "x": {"datum": 4.4506, "scale": {"domain": [-1.5708, 4.7124], "nice": false, "zero": false},
                 "axis": {"orient": "top", "values": [-1.5, -0.5, 0.5, 1.5, 2.5, 3.5, 4.5], "tickSize": -4, "labels": false, "title": null}},
           "y": {"datum": 1.8595, "scale": {"domain": [1.6626, 1.887], "nice": false, "zero": false},
                 "axis": {"orient": "right", "values": [1.675, 1.725, 1.775, 1.825, 1.875], "tickSize": -4, "labels": false, "title": null}}}},
        {"data": {"values": [{"t": "1.5<p"}]}, "mark": {"type": "text", "align": "left", "baseline": "alphabetic", "fontSize": 16, "fontWeight": "bold"},
         "encoding": {"text": {"field": "t"}, "x": {"datum": 0.0602, "scale": {"domain": [0, 1]}, "axis": null}, "y": {"datum": 0.877, "scale": {"domain": [0, 1]}, "axis": null}}},
        {"data": {"values": [{"t": "Trig"}]}, "mark": {"type": "text", "align": "left", "baseline": "alphabetic", "fontSize": 10, "fontWeight": "bold", "dx": 41.5, "dy": -9},
         "encoding": {"text": {"field": "t"}, "x": {"datum": 0.0602, "scale": {"domain": [0, 1]}, "axis": null}, "y": {"datum": 0.877, "scale": {"domain": [0, 1]}, "axis": null}}},
        {"data": {"values": [{"t": "T"}]}, "mark": {"type": "text", "align": "left", "baseline": "alphabetic", "fontSize": 10, "fontWeight": "bold", "dx": 41.5, "dy": 6},
         "encoding": {"text": {"field": "t"}, "x": {"datum": 0.0602, "scale": {"domain": [0, 1]}, "axis": null}, "y": {"datum": 0.877, "scale": {"domain": [0, 1]}, "axis": null}}},
        {"data": {"values": [{"t": "<2 GeV/c"}]}, "mark": {"type": "text", "align": "left", "baseline": "alphabetic", "fontSize": 16, "fontWeight": "bold", "dx": 60.5},
         "encoding": {"text": {"field": "t"}, "x": {"datum": 0.0602, "scale": {"domain": [0, 1]}, "axis": null}, "y": {"datum": 0.877, "scale": {"domain": [0, 1]}, "axis": null}}},
        {"data": {"values": [{"t": "(1/N"}]}, "mark": {"type": "text", "angle": 270, "align": "left", "baseline": "alphabetic", "fontSize": 20, "fontWeight": "bold"},
         "encoding": {"text": {"field": "t"}, "x": {"datum": -0.1296, "scale": {"domain": [0, 1]}, "axis": null}, "y": {"datum": 0.004, "scale": {"domain": [0, 1]}, "axis": null}}},
        {"data": {"values": [{"t": "Trig"}]}, "mark": {"type": "text", "angle": 270, "align": "left", "baseline": "alphabetic", "fontSize": 12.5, "fontWeight": "bold", "dx": 38, "dy": -11},
         "encoding": {"text": {"field": "t"}, "x": {"datum": -0.1296, "scale": {"domain": [0, 1]}, "axis": null}, "y": {"datum": 0.004, "scale": {"domain": [0, 1]}, "axis": null}}},
        {"data": {"values": [{"t": ") dN"}]}, "mark": {"type": "text", "angle": 270, "align": "left", "baseline": "alphabetic", "fontSize": 20, "fontWeight": "bold", "dx": 62.5},
         "encoding": {"text": {"field": "t"}, "x": {"datum": -0.1296, "scale": {"domain": [0, 1]}, "axis": null}, "y": {"datum": 0.004, "scale": {"domain": [0, 1]}, "axis": null}}},
        {"data": {"values": [{"t": "Pair"}]}, "mark": {"type": "text", "angle": 270, "align": "left", "baseline": "alphabetic", "fontSize": 12.5, "fontWeight": "bold", "dx": 101.5, "dy": -11},
         "encoding": {"text": {"field": "t"}, "x": {"datum": -0.1296, "scale": {"domain": [0, 1]}, "axis": null}, "y": {"datum": 0.004, "scale": {"domain": [0, 1]}, "axis": null}}},
        {"data": {"values": [{"t": "/(dΔφ)"}]}, "mark": {"type": "text", "angle": 270, "align": "left", "baseline": "alphabetic", "fontSize": 20, "fontWeight": "bold", "dx": 126},
         "encoding": {"text": {"field": "t"}, "x": {"datum": -0.1296, "scale": {"domain": [0, 1]}, "axis": null}, "y": {"datum": 0.004, "scale": {"domain": [0, 1]}, "axis": null}}}
      ]
    },
    {
      "width": 216, "height": 208,
      "resolve": {"scale": {"x": "independent", "y": "independent"}},
      "layer": [
        {"data": {"name": "pts"}, "transform": [{"filter": "datum.p === 'l'"}],
         "mark": {"type": "point", "shape": "circle", "filled": false, "stroke": "black", "strokeWidth": 1.7, "size": 40, "opacity": 1},
         "encoding": {
           "x": {"field": "x", "type": "quantitative", "scale": {"domain": [-1.5708, 4.7124], "nice": false, "zero": false},
                 "axis": {"orient": "bottom", "values": [-1, 0, 1, 2, 3, 4], "tickSize": -8, "title": "Δφ (rad)", "titlePadding": 1}},
           "y": {"field": "L", "type": "quantitative", "scale": {"domain": [1.6464, 1.925], "nice": false, "zero": false},
                 "axis": {"orient": "left", "values": [1.7, 1.8, 1.9], "format": "~g", "tickSize": -8, "title": null}}}},
        {"data": {"name": "fit"}, "transform": [{"filter": "datum.p === 'l'"}],
         "mark": {"type": "line", "stroke": "black", "strokeWidth": 4, "strokeDash": [5, 4], "interpolate": "monotone"},
         "encoding": {
           "x": {"field": "x", "type": "quantitative", "scale": {"domain": [-1.5708, 4.7124], "nice": false, "zero": false},
                 "axis": {"orient": "top", "values": [-1, 0, 1, 2, 3, 4], "tickSize": -8, "labels": false, "title": null}},
           "y": {"field": "F", "type": "quantitative", "scale": {"domain": [1.6464, 1.925], "nice": false, "zero": false},
                 "axis": {"orient": "right", "values": [1.7, 1.8, 1.9], "tickSize": -8, "labels": false, "title": null}}}},
        {"data": {"name": "pts"}, "transform": [{"filter": "datum.p === 'l'"}],
         "mark": {"type": "point", "shape": "circle", "filled": false, "stroke": "#ff0000", "strokeWidth": 1.7, "size": 40, "opacity": 1},
         "encoding": {
           "x": {"field": "x", "type": "quantitative", "scale": {"domain": [-1.5708, 4.7124], "nice": false, "zero": false},
                 "axis": {"orient": "bottom", "values": [-1.5, -0.5, 0.5, 1.5, 2.5, 3.5, 4.5], "tickSize": -4, "labels": false, "title": null}},
           "y": {"field": "S", "type": "quantitative", "scale": {"domain": [1.6464, 1.925], "nice": false, "zero": false},
                 "axis": {"orient": "left", "values": [1.65, 1.75, 1.85], "tickSize": -4, "labels": false, "title": null}}}},
        {"data": {"values": [{"t": "(l)"}]},
         "mark": {"type": "text", "align": "right", "baseline": "alphabetic", "fontSize": 16, "fontWeight": "bold"},
         "encoding": {"text": {"field": "t"},
           "x": {"datum": 4.4506, "scale": {"domain": [-1.5708, 4.7124], "nice": false, "zero": false},
                 "axis": {"orient": "top", "values": [-1.5, -0.5, 0.5, 1.5, 2.5, 3.5, 4.5], "tickSize": -4, "labels": false, "title": null}},
           "y": {"datum": 1.8909, "scale": {"domain": [1.6464, 1.925], "nice": false, "zero": false},
                 "axis": {"orient": "right", "values": [1.65, 1.75, 1.85], "tickSize": -4, "labels": false, "title": null}}}},
        {"data": {"values": [{"t": "2<p"}]}, "mark": {"type": "text", "align": "left", "baseline": "alphabetic", "fontSize": 16, "fontWeight": "bold"},
         "encoding": {"text": {"field": "t"}, "x": {"datum": 0.0602, "scale": {"domain": [0, 1]}, "axis": null}, "y": {"datum": 0.877, "scale": {"domain": [0, 1]}, "axis": null}}},
        {"data": {"values": [{"t": "Trig"}]}, "mark": {"type": "text", "align": "left", "baseline": "alphabetic", "fontSize": 10, "fontWeight": "bold", "dx": 28.5, "dy": -9},
         "encoding": {"text": {"field": "t"}, "x": {"datum": 0.0602, "scale": {"domain": [0, 1]}, "axis": null}, "y": {"datum": 0.877, "scale": {"domain": [0, 1]}, "axis": null}}},
        {"data": {"values": [{"t": "T"}]}, "mark": {"type": "text", "align": "left", "baseline": "alphabetic", "fontSize": 10, "fontWeight": "bold", "dx": 28.5, "dy": 6},
         "encoding": {"text": {"field": "t"}, "x": {"datum": 0.0602, "scale": {"domain": [0, 1]}, "axis": null}, "y": {"datum": 0.877, "scale": {"domain": [0, 1]}, "axis": null}}},
        {"data": {"values": [{"t": "<2.5 GeV/c"}]}, "mark": {"type": "text", "align": "left", "baseline": "alphabetic", "fontSize": 16, "fontWeight": "bold", "dx": 48},
         "encoding": {"text": {"field": "t"}, "x": {"datum": 0.0602, "scale": {"domain": [0, 1]}, "axis": null}, "y": {"datum": 0.877, "scale": {"domain": [0, 1]}, "axis": null}}},
        {"data": {"values": [{"t": "(1/N"}]}, "mark": {"type": "text", "angle": 270, "align": "left", "baseline": "alphabetic", "fontSize": 20, "fontWeight": "bold"},
         "encoding": {"text": {"field": "t"}, "x": {"datum": -0.1296, "scale": {"domain": [0, 1]}, "axis": null}, "y": {"datum": 0.015, "scale": {"domain": [0, 1]}, "axis": null}}},
        {"data": {"values": [{"t": "Trig"}]}, "mark": {"type": "text", "angle": 270, "align": "left", "baseline": "alphabetic", "fontSize": 12.5, "fontWeight": "bold", "dx": 38, "dy": -11},
         "encoding": {"text": {"field": "t"}, "x": {"datum": -0.1296, "scale": {"domain": [0, 1]}, "axis": null}, "y": {"datum": 0.015, "scale": {"domain": [0, 1]}, "axis": null}}},
        {"data": {"values": [{"t": ") dN"}]}, "mark": {"type": "text", "angle": 270, "align": "left", "baseline": "alphabetic", "fontSize": 20, "fontWeight": "bold", "dx": 62.5},
         "encoding": {"text": {"field": "t"}, "x": {"datum": -0.1296, "scale": {"domain": [0, 1]}, "axis": null}, "y": {"datum": 0.015, "scale": {"domain": [0, 1]}, "axis": null}}},
        {"data": {"values": [{"t": "Pair"}]}, "mark": {"type": "text", "angle": 270, "align": "left", "baseline": "alphabetic", "fontSize": 12.5, "fontWeight": "bold", "dx": 101.5, "dy": -11},
         "encoding": {"text": {"field": "t"}, "x": {"datum": -0.1296, "scale": {"domain": [0, 1]}, "axis": null}, "y": {"datum": 0.015, "scale": {"domain": [0, 1]}, "axis": null}}},
        {"data": {"values": [{"t": "/(dΔφ)"}]}, "mark": {"type": "text", "angle": 270, "align": "left", "baseline": "alphabetic", "fontSize": 20, "fontWeight": "bold", "dx": 126},
         "encoding": {"text": {"field": "t"}, "x": {"datum": -0.1296, "scale": {"domain": [0, 1]}, "axis": null}, "y": {"datum": 0.015, "scale": {"domain": [0, 1]}, "axis": null}}}
      ]
    },
    {
      "width": 216, "height": 208,
      "resolve": {"scale": {"x": "independent", "y": "independent"}},
      "layer": [
        {"data": {"name": "pts"}, "transform": [{"filter": "datum.p === 'm'"}],
         "mark": {"type": "point", "shape": "circle", "filled": false, "stroke": "black", "strokeWidth": 1.7, "size": 40, "opacity": 1},
         "encoding": {
           "x": {"field": "x", "type": "quantitative", "scale": {"domain": [-1.5708, 4.7124], "nice": false, "zero": false},
                 "axis": {"orient": "bottom", "values": [-1, 0, 1, 2, 3, 4], "tickSize": -8, "title": "Δφ (rad)", "titlePadding": 1}},
           "y": {"field": "L", "type": "quantitative", "scale": {"domain": [1.6415, 1.9458], "nice": false, "zero": false},
                 "axis": {"orient": "left", "values": [1.7, 1.8, 1.9], "format": "~g", "tickSize": -8, "title": null}}}},
        {"data": {"name": "fit"}, "transform": [{"filter": "datum.p === 'm'"}],
         "mark": {"type": "line", "stroke": "black", "strokeWidth": 4, "strokeDash": [5, 4], "interpolate": "monotone"},
         "encoding": {
           "x": {"field": "x", "type": "quantitative", "scale": {"domain": [-1.5708, 4.7124], "nice": false, "zero": false},
                 "axis": {"orient": "top", "values": [-1, 0, 1, 2, 3, 4], "tickSize": -8, "labels": false, "title": null}},
           "y": {"field": "F", "type": "quantitative", "scale": {"domain": [1.6415, 1.9458], "nice": false, "zero": false},
                 "axis": {"orient": "right", "values": [1.7, 1.8, 1.9], "tickSize": -8, "labels": false, "title": null}}}},
        {"data": {"name": "pts"}, "transform": [{"filter": "datum.p === 'm'"}],
         "mark": {"type": "point", "shape": "circle", "filled": false, "stroke": "#ff0000", "strokeWidth": 1.7, "size": 40, "opacity": 1},
         "encoding": {
           "x": {"field": "x", "type": "quantitative", "scale": {"domain": [-1.5708, 4.7124], "nice": false, "zero": false},
                 "axis": {"orient": "bottom", "values": [-1.5, -0.5, 0.5, 1.5, 2.5, 3.5, 4.5], "tickSize": -4, "labels": false, "title": null}},
           "y": {"field": "S", "type": "quantitative", "scale": {"domain": [1.6415, 1.9458], "nice": false, "zero": false},
                 "axis": {"orient": "left", "values": [1.65, 1.75, 1.85], "tickSize": -4, "labels": false, "title": null}}}},
        {"data": {"values": [{"t": "(m)"}]},
         "mark": {"type": "text", "align": "right", "baseline": "alphabetic", "fontSize": 16, "fontWeight": "bold"},
         "encoding": {"text": {"field": "t"},
           "x": {"datum": 4.4506, "scale": {"domain": [-1.5708, 4.7124], "nice": false, "zero": false},
                 "axis": {"orient": "top", "values": [-1.5, -0.5, 0.5, 1.5, 2.5, 3.5, 4.5], "tickSize": -4, "labels": false, "title": null}},
           "y": {"datum": 1.9085, "scale": {"domain": [1.6415, 1.9458], "nice": false, "zero": false},
                 "axis": {"orient": "right", "values": [1.65, 1.75, 1.85], "tickSize": -4, "labels": false, "title": null}}}},
        {"data": {"values": [{"t": "2.5<p"}]}, "mark": {"type": "text", "align": "left", "baseline": "alphabetic", "fontSize": 16, "fontWeight": "bold"},
         "encoding": {"text": {"field": "t"}, "x": {"datum": 0.0602, "scale": {"domain": [0, 1]}, "axis": null}, "y": {"datum": 0.877, "scale": {"domain": [0, 1]}, "axis": null}}},
        {"data": {"values": [{"t": "Trig"}]}, "mark": {"type": "text", "align": "left", "baseline": "alphabetic", "fontSize": 10, "fontWeight": "bold", "dx": 41.5, "dy": -9},
         "encoding": {"text": {"field": "t"}, "x": {"datum": 0.0602, "scale": {"domain": [0, 1]}, "axis": null}, "y": {"datum": 0.877, "scale": {"domain": [0, 1]}, "axis": null}}},
        {"data": {"values": [{"t": "T"}]}, "mark": {"type": "text", "align": "left", "baseline": "alphabetic", "fontSize": 10, "fontWeight": "bold", "dx": 41.5, "dy": 6},
         "encoding": {"text": {"field": "t"}, "x": {"datum": 0.0602, "scale": {"domain": [0, 1]}, "axis": null}, "y": {"datum": 0.877, "scale": {"domain": [0, 1]}, "axis": null}}},
        {"data": {"values": [{"t": "<3 GeV/c"}]}, "mark": {"type": "text", "align": "left", "baseline": "alphabetic", "fontSize": 16, "fontWeight": "bold", "dx": 60.5},
         "encoding": {"text": {"field": "t"}, "x": {"datum": 0.0602, "scale": {"domain": [0, 1]}, "axis": null}, "y": {"datum": 0.877, "scale": {"domain": [0, 1]}, "axis": null}}},
        {"data": {"values": [{"t": "(1/N"}]}, "mark": {"type": "text", "angle": 270, "align": "left", "baseline": "alphabetic", "fontSize": 20, "fontWeight": "bold"},
         "encoding": {"text": {"field": "t"}, "x": {"datum": -0.1296, "scale": {"domain": [0, 1]}, "axis": null}, "y": {"datum": 0.015, "scale": {"domain": [0, 1]}, "axis": null}}},
        {"data": {"values": [{"t": "Trig"}]}, "mark": {"type": "text", "angle": 270, "align": "left", "baseline": "alphabetic", "fontSize": 12.5, "fontWeight": "bold", "dx": 38, "dy": -11},
         "encoding": {"text": {"field": "t"}, "x": {"datum": -0.1296, "scale": {"domain": [0, 1]}, "axis": null}, "y": {"datum": 0.015, "scale": {"domain": [0, 1]}, "axis": null}}},
        {"data": {"values": [{"t": ") dN"}]}, "mark": {"type": "text", "angle": 270, "align": "left", "baseline": "alphabetic", "fontSize": 20, "fontWeight": "bold", "dx": 62.5},
         "encoding": {"text": {"field": "t"}, "x": {"datum": -0.1296, "scale": {"domain": [0, 1]}, "axis": null}, "y": {"datum": 0.015, "scale": {"domain": [0, 1]}, "axis": null}}},
        {"data": {"values": [{"t": "Pair"}]}, "mark": {"type": "text", "angle": 270, "align": "left", "baseline": "alphabetic", "fontSize": 12.5, "fontWeight": "bold", "dx": 101.5, "dy": -11},
         "encoding": {"text": {"field": "t"}, "x": {"datum": -0.1296, "scale": {"domain": [0, 1]}, "axis": null}, "y": {"datum": 0.015, "scale": {"domain": [0, 1]}, "axis": null}}},
        {"data": {"values": [{"t": "/(dΔφ)"}]}, "mark": {"type": "text", "angle": 270, "align": "left", "baseline": "alphabetic", "fontSize": 20, "fontWeight": "bold", "dx": 126},
         "encoding": {"text": {"field": "t"}, "x": {"datum": -0.1296, "scale": {"domain": [0, 1]}, "axis": null}, "y": {"datum": 0.015, "scale": {"domain": [0, 1]}, "axis": null}}}
      ]
    },
    {
      "width": 216, "height": 208,
      "resolve": {"scale": {"x": "independent", "y": "independent"}},
      "layer": [
        {"data": {"name": "pts"}, "transform": [{"filter": "datum.p === 'n'"}],
         "mark": {"type": "point", "shape": "circle", "filled": false, "stroke": "black", "strokeWidth": 1.7, "size": 40, "opacity": 1},
         "encoding": {
           "x": {"field": "x", "type": "quantitative", "scale": {"domain": [-1.5708, 4.7124], "nice": false, "zero": false},
                 "axis": {"orient": "bottom", "values": [-1, 0, 1, 2, 3, 4], "tickSize": -8, "title": "Δφ (rad)", "titlePadding": 1}},
           "y": {"field": "L", "type": "quantitative", "scale": {"domain": [1.6348, 1.9891], "nice": false, "zero": false},
                 "axis": {"orient": "left", "values": [1.7, 1.8, 1.9], "format": "~g", "tickSize": -8, "title": null}}}},
        {"data": {"name": "fit"}, "transform": [{"filter": "datum.p === 'n'"}],
         "mark": {"type": "line", "stroke": "black", "strokeWidth": 4, "strokeDash": [5, 4], "interpolate": "monotone"},
         "encoding": {
           "x": {"field": "x", "type": "quantitative", "scale": {"domain": [-1.5708, 4.7124], "nice": false, "zero": false},
                 "axis": {"orient": "top", "values": [-1, 0, 1, 2, 3, 4], "tickSize": -8, "labels": false, "title": null}},
           "y": {"field": "F", "type": "quantitative", "scale": {"domain": [1.6348, 1.9891], "nice": false, "zero": false},
                 "axis": {"orient": "right", "values": [1.7, 1.8, 1.9], "tickSize": -8, "labels": false, "title": null}}}},
        {"data": {"name": "pts"}, "transform": [{"filter": "datum.p === 'n'"}],
         "mark": {"type": "point", "shape": "circle", "filled": false, "stroke": "#ff0000", "strokeWidth": 1.7, "size": 40, "opacity": 1},
         "encoding": {
           "x": {"field": "x", "type": "quantitative", "scale": {"domain": [-1.5708, 4.7124], "nice": false, "zero": false},
                 "axis": {"orient": "bottom", "values": [-1.5, -0.5, 0.5, 1.5, 2.5, 3.5, 4.5], "tickSize": -4, "labels": false, "title": null}},
           "y": {"field": "S", "type": "quantitative", "scale": {"domain": [1.6348, 1.9891], "nice": false, "zero": false},
                 "axis": {"orient": "left", "values": [1.65, 1.75, 1.85, 1.95], "tickSize": -4, "labels": false, "title": null}}}},
        {"data": {"values": [{"t": "(n)"}]},
         "mark": {"type": "text", "align": "right", "baseline": "alphabetic", "fontSize": 16, "fontWeight": "bold"},
         "encoding": {"text": {"field": "t"},
           "x": {"datum": 4.4506, "scale": {"domain": [-1.5708, 4.7124], "nice": false, "zero": false},
                 "axis": {"orient": "top", "values": [-1.5, -0.5, 0.5, 1.5, 2.5, 3.5, 4.5], "tickSize": -4, "labels": false, "title": null}},
           "y": {"datum": 1.9457, "scale": {"domain": [1.6348, 1.9891], "nice": false, "zero": false},
                 "axis": {"orient": "right", "values": [1.65, 1.75, 1.85, 1.95], "tickSize": -4, "labels": false, "title": null}}}},
        {"data": {"values": [{"t": "3<p"}]}, "mark": {"type": "text", "align": "left", "baseline": "alphabetic", "fontSize": 16, "fontWeight": "bold"},
         "encoding": {"text": {"field": "t"}, "x": {"datum": 0.0602, "scale": {"domain": [0, 1]}, "axis": null}, "y": {"datum": 0.877, "scale": {"domain": [0, 1]}, "axis": null}}},
        {"data": {"values": [{"t": "Trig"}]}, "mark": {"type": "text", "align": "left", "baseline": "alphabetic", "fontSize": 10, "fontWeight": "bold", "dx": 28.5, "dy": -9},
         "encoding": {"text": {"field": "t"}, "x": {"datum": 0.0602, "scale": {"domain": [0, 1]}, "axis": null}, "y": {"datum": 0.877, "scale": {"domain": [0, 1]}, "axis": null}}},
        {"data": {"values": [{"t": "T"}]}, "mark": {"type": "text", "align": "left", "baseline": "alphabetic", "fontSize": 10, "fontWeight": "bold", "dx": 28.5, "dy": 6},
         "encoding": {"text": {"field": "t"}, "x": {"datum": 0.0602, "scale": {"domain": [0, 1]}, "axis": null}, "y": {"datum": 0.877, "scale": {"domain": [0, 1]}, "axis": null}}},
        {"data": {"values": [{"t": "<5 GeV/c"}]}, "mark": {"type": "text", "align": "left", "baseline": "alphabetic", "fontSize": 16, "fontWeight": "bold", "dx": 48},
         "encoding": {"text": {"field": "t"}, "x": {"datum": 0.0602, "scale": {"domain": [0, 1]}, "axis": null}, "y": {"datum": 0.877, "scale": {"domain": [0, 1]}, "axis": null}}},
        {"data": {"values": [{"t": "(1/N"}]}, "mark": {"type": "text", "angle": 270, "align": "left", "baseline": "alphabetic", "fontSize": 20, "fontWeight": "bold"},
         "encoding": {"text": {"field": "t"}, "x": {"datum": -0.1296, "scale": {"domain": [0, 1]}, "axis": null}, "y": {"datum": 0.015, "scale": {"domain": [0, 1]}, "axis": null}}},
        {"data": {"values": [{"t": "Trig"}]}, "mark": {"type": "text", "angle": 270, "align": "left", "baseline": "alphabetic", "fontSize": 12.5, "fontWeight": "bold", "dx": 38, "dy": -11},
         "encoding": {"text": {"field": "t"}, "x": {"datum": -0.1296, "scale": {"domain": [0, 1]}, "axis": null}, "y": {"datum": 0.015, "scale": {"domain": [0, 1]}, "axis": null}}},
        {"data": {"values": [{"t": ") dN"}]}, "mark": {"type": "text", "angle": 270, "align": "left", "baseline": "alphabetic", "fontSize": 20, "fontWeight": "bold", "dx": 62.5},
         "encoding": {"text": {"field": "t"}, "x": {"datum": -0.1296, "scale": {"domain": [0, 1]}, "axis": null}, "y": {"datum": 0.015, "scale": {"domain": [0, 1]}, "axis": null}}},
        {"data": {"values": [{"t": "Pair"}]}, "mark": {"type": "text", "angle": 270, "align": "left", "baseline": "alphabetic", "fontSize": 12.5, "fontWeight": "bold", "dx": 101.5, "dy": -11},
         "encoding": {"text": {"field": "t"}, "x": {"datum": -0.1296, "scale": {"domain": [0, 1]}, "axis": null}, "y": {"datum": 0.015, "scale": {"domain": [0, 1]}, "axis": null}}},
        {"data": {"values": [{"t": "/(dΔφ)"}]}, "mark": {"type": "text", "angle": 270, "align": "left", "baseline": "alphabetic", "fontSize": 20, "fontWeight": "bold", "dx": 126},
         "encoding": {"text": {"field": "t"}, "x": {"datum": -0.1296, "scale": {"domain": [0, 1]}, "axis": null}, "y": {"datum": 0.015, "scale": {"domain": [0, 1]}, "axis": null}}}
      ]
    },
    {
      "width": 216, "height": 208,
      "view": {"stroke": null},
      "layer": [
        {"data": {"values": [{"t": "h"}]}, "mark": {"type": "text", "align": "left", "baseline": "middle", "fontSize": 16, "fontWeight": "bold"},
         "encoding": {"text": {"field": "t"}, "x": {"datum": 0.125, "scale": {"domain": [0, 1]}, "axis": null}, "y": {"datum": 0.8976, "scale": {"domain": [0, 1]}, "axis": null}}},
        {"data": {"values": [{"t": "±"}]}, "mark": {"type": "text", "align": "left", "baseline": "middle", "fontSize": 11, "fontWeight": "bold", "dx": 10, "dy": -7},
         "encoding": {"text": {"field": "t"}, "x": {"datum": 0.125}, "y": {"datum": 0.8976}}},
        {"data": {"values": [{"t": "-h"}]}, "mark": {"type": "text", "align": "left", "baseline": "middle", "fontSize": 16, "fontWeight": "bold", "dx": 16.5},
         "encoding": {"text": {"field": "t"}, "x": {"datum": 0.125}, "y": {"datum": 0.8976}}},
        {"data": {"values": [{"t": "±"}]}, "mark": {"type": "text", "align": "left", "baseline": "middle", "fontSize": 11, "fontWeight": "bold", "dx": 32, "dy": -7},
         "encoding": {"text": {"field": "t"}, "x": {"datum": 0.125}, "y": {"datum": 0.8976}}},
        {"data": {"values": [{"t": "AMPT p+Au 200 GeV"}]}, "mark": {"type": "text", "align": "left", "baseline": "middle", "fontSize": 16, "fontWeight": "bold"},
         "encoding": {"text": {"field": "t"}, "x": {"datum": 0.125}, "y": {"datum": 0.7726}}},
        {"data": {"values": [{"t": "Centrality 0-5%"}]}, "mark": {"type": "text", "align": "left", "baseline": "middle", "fontSize": 16, "fontWeight": "bold"},
         "encoding": {"text": {"field": "t"}, "x": {"datum": 0.125}, "y": {"datum": 0.649}}},
        {"data": {"values": [{"t": "0.2<p"}]}, "mark": {"type": "text", "align": "left", "baseline": "middle", "fontSize": 16},
         "encoding": {"text": {"field": "t"}, "x": {"datum": 0.125}, "y": {"datum": 0.5159}}},
        {"data": {"values": [{"t": "Assoc"}]}, "mark": {"type": "text", "align": "left", "baseline": "middle", "fontSize": 11, "dx": 40.5, "dy": -7},
         "encoding": {"text": {"field": "t"}, "x": {"datum": 0.125}, "y": {"datum": 0.5159}}},
        {"data": {"values": [{"t": "T"}]}, "mark": {"type": "text", "align": "left", "baseline": "middle", "fontSize": 11, "dx": 40.5, "dy": 7},
         "encoding": {"text": {"field": "t"}, "x": {"datum": 0.125}, "y": {"datum": 0.5159}}},
        {"data": {"values": [{"t": "<3.0 GeV/c"}]}, "mark": {"type": "text", "align": "left", "baseline": "middle", "fontSize": 16, "dx": 71},
         "encoding": {"text": {"field": "t"}, "x": {"datum": 0.125}, "y": {"datum": 0.5159}}},
        {"data": {"values": [{"t": "0<|η|"}]}, "mark": {"type": "text", "align": "left", "baseline": "middle", "fontSize": 16},
         "encoding": {"text": {"field": "t"}, "x": {"datum": 0.125}, "y": {"datum": 0.3976}}},
        {"data": {"values": [{"t": "Trig"}]}, "mark": {"type": "text", "align": "left", "baseline": "middle", "fontSize": 11, "dx": 35.5, "dy": -7},
         "encoding": {"text": {"field": "t"}, "x": {"datum": 0.125}, "y": {"datum": 0.3976}}},
        {"data": {"values": [{"t": ", |η|"}]}, "mark": {"type": "text", "align": "left", "baseline": "middle", "fontSize": 16, "dx": 53.5},
         "encoding": {"text": {"field": "t"}, "x": {"datum": 0.125}, "y": {"datum": 0.3976}}},
        {"data": {"values": [{"t": "Assoc"}]}, "mark": {"type": "text", "align": "left", "baseline": "middle", "fontSize": 11, "dx": 79.5, "dy": -7},
         "encoding": {"text": {"field": "t"}, "x": {"datum": 0.125}, "y": {"datum": 0.3976}}},
        {"data": {"values": [{"t": "<0.9"}]}, "mark": {"type": "text", "align": "left", "baseline": "middle", "fontSize": 16, "dx": 109.5},
         "encoding": {"text": {"field": "t"}, "x": {"datum": 0.125}, "y": {"datum": 0.3976}}},
        {"data": {"values": [{"t": "Long-range 1<|Δη|<1.8"}]}, "mark": {"type": "text", "align": "left", "baseline": "middle", "fontSize": 16},
         "encoding": {"text": {"field": "t"}, "x": {"datum": 0.125}, "y": {"datum": 0.2692}}},
        {"data": {"values": [{"t": "Short-range 0<|Δη|<0.5"}]}, "mark": {"type": "text", "align": "left", "baseline": "middle", "fontSize": 16},
         "encoding": {"text": {"field": "t"}, "x": {"datum": 0.125}, "y": {"datum": 0.1409}}},
        {"data": {"values": [{"t": "Fourier fits"}]}, "mark": {"type": "text", "align": "left", "baseline": "middle", "fontSize": 16},
         "encoding": {"text": {"field": "t"}, "x": {"datum": 0.125}, "y": {"datum": 0.0159}}},
        {"data": {"values": [{"s": "Long-range"}]}, "mark": {"type": "point", "shape": "circle", "filled": false, "stroke": "black", "strokeWidth": 1.7, "size": 40, "opacity": 1},
         "encoding": {"x": {"datum": 0}, "y": {"datum": 0.2692}}},
        {"data": {"values": [{"s": "Short-range"}]}, "mark": {"type": "point", "shape": "circle", "filled": false, "stroke": "#ff0000", "strokeWidth": 1.7, "size": 40, "opacity": 1},
         "encoding": {"x": {"datum": 0}, "y": {"datum": 0.1409}}},
        {"data": {"values": [{"s": "Fourier fits"}]}, "mark": {"type": "rule", "stroke": "black", "strokeWidth": 4, "strokeDash": [5, 4]},
         "encoding": {"x": {"datum": -0.088}, "x2": {"datum": 0.083}, "y": {"datum": 0.0159}}}
      ]
    }
  ],
  "config": {
    "font": "Liberation Sans",
    "view": {"stroke": "black", "strokeWidth": 1.8},
    "axis": {
      "domain": false, "grid": false,
      "labelFont": "Liberation Sans", "labelFontSize": 13, "labelFontWeight": "bold", "labelColor": "black",
      "labelPadding": 12, "labelOverlap": false, "labelFlush": false, "labelBound": false,
      "tickColor": "black", "tickWidth": 1.2,
      "titleFont": "Liberation Sans", "titleFontSize": 19, "titleFontWeight": "bold", "titleColor": "black"
    },
    "text": {"color": "black", "font": "Liberation Sans"}
  }
}
